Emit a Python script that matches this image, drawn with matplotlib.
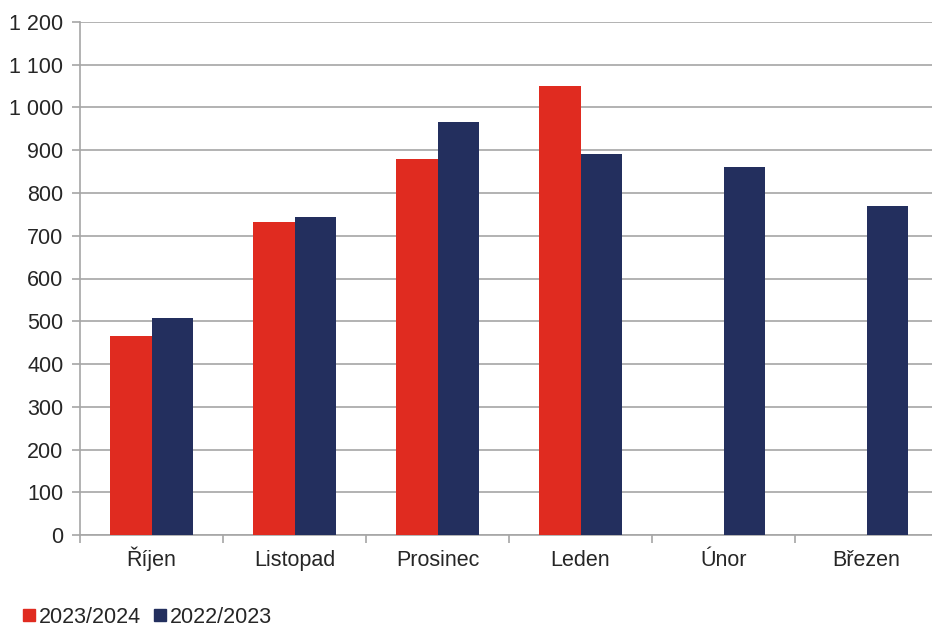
import matplotlib
matplotlib.use("Agg")
import matplotlib.pyplot as plt
from matplotlib.patches import Patch
import numpy as np

plt.rcParams['font.family'] = ['Liberation Sans', 'DejaVu Sans']

categories = ["Říjen", "Listopad", "Prosinec", "Leden", "Únor", "Březen"]
series_names = ["2023/2024", "2022/2023"]
values_2324 = [465, 732, 880, 1050, np.nan, np.nan]
values_2223 = [508, 744, 966, 891, 861, 770]
yticks = [0, 100, 200, 300, 400, 500, 600, 700, 800, 900, 1000, 1100, 1200]
ytick_labels = ["0", "100", "200", "300", "400", "500", "600", "700", "800", "900", "1 000", "1 100", "1 200"]

red = "#E02B20"
navy = "#232F5E"

fig = plt.figure(figsize=(9.32, 6.30), dpi=100)
ax = fig.add_axes([80/932, 1-535/630, 858/932, 513/630])

x = np.arange(len(categories))
w = 0.287
ax.bar(x - w/2, values_2324, width=w, color=red, zorder=3)
ax.bar(x + w/2, values_2223, width=w, color=navy, zorder=3)

ax.set_xlim(-0.5, len(categories) - 0.5)
ax.set_ylim(0, 1200)
ax.set_yticks(yticks)
ax.set_yticklabels(ytick_labels)
ax.yaxis.grid(True, color="#A6A6A6", linewidth=1.2, zorder=0)
ax.set_axisbelow(True)

ax.set_xticks(x)
ax.set_xticklabels(categories)
for lbl in ax.get_xticklabels():
    lbl.set_verticalalignment('baseline')
ax.set_xticks(np.arange(-0.5, len(categories) + 0.5, 1), minor=True)
ax.tick_params(axis='x', which='major', length=0, pad=22, labelsize=15.5, colors="#262626")
ax.tick_params(axis='x', which='minor', length=6, width=1.2, color="#A6A6A6")
ax.tick_params(axis='y', length=6, width=1.2, color="#A6A6A6", pad=6, labelsize=15.5, labelcolor="#262626")

for s in ["top", "right"]:
    ax.spines[s].set_visible(False)
for s in ["left", "bottom"]:
    ax.spines[s].set_color("#A6A6A6")
    ax.spines[s].set_linewidth(1.2)

handles = [Patch(color=red, label=series_names[0]), Patch(color=navy, label=series_names[1])]
fig.legend(handles=handles, loc="lower left", bbox_to_anchor=(4/932, -17/630), ncol=2, frameon=False,
           fontsize=15.5, handlelength=0.53, handleheight=0.53, handletextpad=0.2, columnspacing=0.6,
           labelcolor="#262626")

fig.savefig("out.png", dpi=100)
